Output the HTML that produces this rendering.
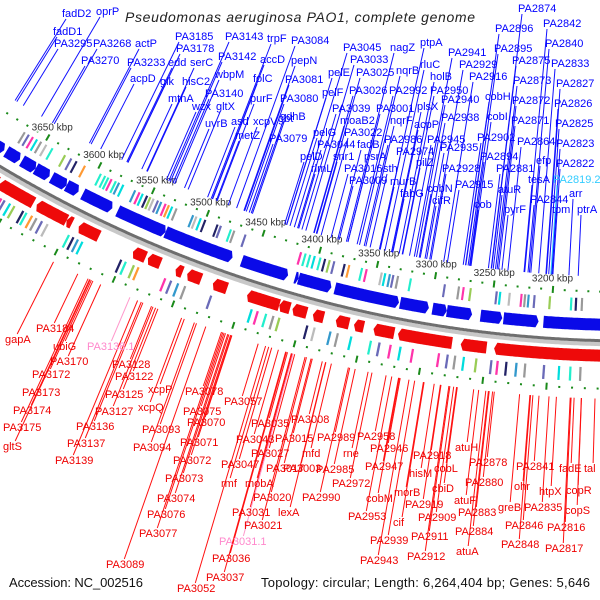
<!DOCTYPE html>
<html><head><meta charset="utf-8">
<style>
html,body{margin:0;padding:0;background:#fff;}
#wrap{width:600px;height:600px;position:relative;overflow:hidden;}
svg{display:block;}
text{font-family:"Liberation Sans",sans-serif;}
</style></head>
<body>
<div id="wrap">
<svg id="chart" width="600" height="600" viewBox="0 0 600 600" xmlns="http://www.w3.org/2000/svg">
<g id="gTracks"></g>
<g id="gTicks"></g>
<g id="gLines"></g>
<g id="gLabels"></g>
<text x="125" y="22" font-size="14" font-style="italic" fill="#222" textLength="350" lengthAdjust="spacing">Pseudomonas aeruginosa PAO1, complete genome</text>
<text x="9" y="587" font-size="13" fill="#111" textLength="134" lengthAdjust="spacing">Accession: NC_002516</text>
<text x="261" y="587" font-size="13" fill="#111" textLength="329" lengthAdjust="spacing">Topology: circular; Length: 6,264,404 bp; Genes: 5,646</text>
</svg>
</div>
<script>
// ---- data (kbp) ----
const forwardGenes = [[3676,3700],[3661,3674],[3646,3659],[3633,3646],[3617,3631],[3606,3617],[3575,3602],[3527,3570],[3468,3527],[3420,3460],[3411,3414],[3383,3411],[3326,3380],[3301,3325],[3286,3298],[3265,3286],[3240,3258],[3210,3239],[3140,3206]];
const reverseGenes = [[3676,3700],[3667,3674],[3634,3665],[3604,3631],[3599,3604],[3575,3593],[3534,3545],[3521,3532],[3502,3508],[3486,3498],[3464,3476],[3420,3447],[3411,3420],[3397,3409],[3383,3392],[3362,3373],[3350,3358],[3325,3342],[3278,3322],[3250,3271],[3140,3244]];
const forwardCog = [3669,3665,3661,3657,3653,3648,3642,3630,3624,3619,3611,3596,3592,3589,3586,3582,3579,3575,3564,3560,3557,3553,3550,3547,3543,3540,3536,3533,3530,3526,3511,3508,3504,3500,3489,3486,3477,3474,3464,3415,3411,3407,3403,3398,3394,3390,3386,3377,3373,3362,3358,3345,3342,3338,3335,3331,3320,3291,3279,3275,3269,3247,3244,3236,3226,3223,3220,3215,3202,3184,3180,3175];
const forwardCogColor = [0,1,2,3,0,4,5,6,1,7,8,5,5,5,2,5,9,3,9,2,3,7,6,4,1,9,2,8,3,0,9,4,3,7,7,1,5,0,1,2,5,5,3,5,7,6,1,7,8,5,2,4,3,9,1,0,5,1,0,2,6,1,3,4,2,0,9,1,6,5,7,0];
const reverseCog = [3672,3669,3662,3658,3655,3650,3646,3638,3635,3630,3626,3621,3616,3597,3593,3589,3585,3551,3547,3540,3536,3513,3508,3502,3496,3474,3440,3435,3428,3422,3417,3394,3388,3375,3369,3358,3342,3335,3326,3318,3308,3287,3280,3274,3267,3257,3245,3240,3233,3225,3218,3203,3191,3182,3174];
const reverseCogColor = [9,0,7,2,1,3,6,7,5,8,0,1,4,5,7,9,3,7,5,6,8,2,1,9,0,1,3,2,5,0,6,7,4,9,0,3,5,1,2,3,2,2,1,0,3,6,1,2,7,9,0,1,3,5,0];
const cogPalette = ["#999","#6a6ab8","#f3a","#0dd","#bbb","#2ec","#9c5","#226","#f93","#39c"];
const tickStartKbp = 3150, tickEndKbp = 3700, tickStep = 10, majorStep = 50;
const kbpTickLabels = [3650,3600,3550,3500,3450,3400,3350,3300,3250,3200];
// label layout [name, x, baseline]
const blueLabels = [["fadD2",62,17],["oprP",96,15],["fadD1",53,35],["PA3295",54,47],["PA3268",93,47],["actP",135,47],["PA3270",81,64],["PA3233",127,66],["edd",168,66],["serC",190,66],["acpD",130,82],["glk",160,85],["hisC2",182,85],["mtnA",168,102],["wzx",192,110],["gltX",216,110],["uvrB",205,127],["PA3185",175,40],["PA3178",176,52],["PA3143",225,40],["PA3142",218,60],["wbpM",215,78],["PA3140",205,97],["trpF",267,42],["accD",260,63],["folC",253,82],["purF",250,102],["asd",231,125],["xcpV",253,125],["gbt",278,122],["metZ",235,139],["PA3079",269,142],["PA3084",291,44],["pepN",291,64],["PA3081",285,83],["PA3080",280,102],["gdhB",280,120],["pelG",313,136],["PA3044",317,148],["pelD",300,160],["rlmL",311,172],["pelE",328,76],["pelF",322,96],["PA3039",332,112],["moaB2",340,124],["PA3022",344,136],["fadB",357,148],["snr1",333,160],["PA3016",344,172],["PA3009",349,184],["PA3045",343,51],["PA3033",350,63],["PA3025",356,76],["PA3026",349,94],["nagZ",390,51],["nqrB",396,74],["PA2992",389,94],["PA3001",376,112],["nqrF",390,124],["PA2986",384,143],["psrA",364,160],["PA2974",396,155],["sth",383,172],["murB",390,185],["fabG",400,197],["ptpA",420,46],["rluC",420,68],["holB",430,80],["PA2950",430,94],["plsX",417,110],["acpP",414,128],["PA2945",427,143],["pilZ",416,166],["cobN",427,192],["cifR",432,204],["PA2941",448,56],["PA2929",459,68],["PA2916",469,80],["PA2940",441,103],["PA2938",441,121],["PA2935",440,151],["PA2928",442,172],["PA2915",455,188],["PA2896",495,32],["PA2895",494,52],["PA2874",518,12],["PA2875",512,64],["PA2873",513,84],["PA2872",512,104],["PA2871",511,124],["PA2864",517,145],["PA2842",543,27],["PA2840",545,47],["PA2833",551,67],["PA2827",556,87],["PA2826",554,107],["PA2825",555,127],["PA2823",556,147],["PA2822",556,167],["cobH",485,100],["cobI",487,120],["PA2902",477,141],["PA2894",480,160],["PA2881",496,172],["atuR",498,193],["efp",536,164],["tesA",528,183],["arr",569,197],["cob",474,208],["pyrF",504,213],["PA2844",530,203],["tpm",552,213],["ptrA",577,213]];
const cyanLabels = [["PA2819.2",553,183]];
const redLabels = [["gapA",5,343],["PA3184",36,332],["ubiG",53,350],["PA3170",50,365],["PA3172",32,378],["PA3173",22,396],["PA3174",13,414],["PA3175",3,431],["gltS",3,450],["PA3128",112,368],["PA3122",115,380],["PA3125",105,398],["PA3127",95,415],["PA3136",76,430],["PA3137",67,447],["PA3139",55,464],["xcpP",148,393],["xcpQ",138,411],["PA3093",142,433],["PA3094",133,451],["PA3078",185,395],["PA3075",183,415],["PA3070",187,426],["PA3071",180,446],["PA3072",173,464],["PA3073",165,482],["PA3074",157,502],["PA3076",147,518],["PA3077",139,537],["PA3089",106,568],["PA3057",224,405],["PA3035",251,427],["PA3043",236,443],["PA3027",251,457],["PA3047",221,468],["PA3017",266,472],["rmf",221,487],["mobA",245,487],["PA3020",253,501],["PA3031",232,516],["lexA",278,516],["PA3021",244,529],["PA3036",212,562],["PA3037",206,581],["PA3052",177,592],["PA3008",291,423],["PA3015",275,442],["mfd",302,457],["PA3003",283,472],["PA2990",302,501],["PA2989",317,441],["rne",343,457],["PA2985",316,473],["PA2972",332,487],["PA2958",357,440],["PA2946",370,452],["PA2947",365,470],["cobM",366,502],["PA2953",348,520],["cif",393,526],["PA2939",370,544],["PA2943",360,564],["morB",394,496],["PA2918",413,459],["hisM",409,477],["cobL",434,472],["cbiD",432,492],["PA2919",405,508],["PA2909",418,521],["PA2911",411,540],["PA2912",407,560],["atuH",455,451],["PA2878",469,466],["PA2880",465,486],["atuF",454,504],["PA2883",458,516],["PA2884",455,535],["atuA",456,555],["PA2841",516,470],["greB",498,511],["ohr",514,490],["htpX",539,495],["PA2835",524,511],["PA2846",505,529],["PA2848",501,548],["fadE",559,472],["tal",584,472],["copR",566,494],["copS",565,514],["PA2816",547,531],["PA2817",545,552]];
const pinkLabels = [["PA3138.1",87,350],["PA3031.1",219,545]];

// ---- geometry ----
const CX=631, CY=-886, R0=1227;
function ang(k){return (3.8+(k-3200)*0.0575)*Math.PI/180;}
function pt(k,r){const a=ang(k);return [CX-r*Math.sin(a), CY+r*Math.cos(a)];}
const NS="http://www.w3.org/2000/svg";
function mk(tag,parent){const e=document.createElementNS(NS,tag);parent.appendChild(e);return e;}
function P(p){return p[0].toFixed(1)+","+p[1].toFixed(1);}
function arcPts(k1,k2,r){const n=Math.max(2,Math.ceil(Math.abs(k2-k1)));const a=[];for(let i=0;i<=n;i++)a.push(pt(k1+(k2-k1)*i/n,r));return a;}

const gT=document.getElementById('gTracks'), gK=document.getElementById('gTicks'), gL=document.getElementById('gLines'), gB=document.getElementById('gLabels');

// backbone
{
  const p1=mk('path',gT);
  p1.setAttribute('d','M'+arcPts(3140,3720,R0+3.5).map(P).join(' L'));
  p1.setAttribute('fill','none');p1.setAttribute('stroke','#c8c8c8');p1.setAttribute('stroke-width','4');
  
  
  const p2=mk('path',gT);
  p2.setAttribute('d','M'+arcPts(3140,3720,R0).map(P).join(' L'));
  p2.setAttribute('fill','none');p2.setAttribute('stroke','#6e6e6e');p2.setAttribute('stroke-width','3');
  
  
}

// gene arrows
function arrow(lo,hi,r1,r2,dirRight){
  const tip=Math.min(2.2,(hi-lo)*0.5), mid=(r1+r2)/2;
  let pts;
  if(dirRight){
    pts=arcPts(hi,lo+tip,r2).concat([pt(lo,mid)],arcPts(lo+tip,hi,r1));
  } else {
    pts=arcPts(lo,hi-tip,r2).concat([pt(hi,mid)],arcPts(hi-tip,lo,r1));
  }
  return 'M'+pts.map(P).join(' L')+'Z';
}
forwardGenes.forEach(g=>{
  const p=mk('path',gT);
  p.setAttribute('d',arrow(g[0],g[1],R0-22,R0-10,true));
  p.setAttribute('fill','#0a0ae8');
  
  
});
reverseGenes.forEach(g=>{
  const p=mk('path',gT);
  p.setAttribute('d',arrow(g[0],g[1],R0+9,R0+21,false));
  p.setAttribute('fill','#ee0a0a');
  
  
});
// COG bars
function cogBar(k,r1,r2,col,name){
  const pts=[pt(k-0.9,r1),pt(k+0.9,r1),pt(k+0.9,r2),pt(k-0.9,r2)];
  const p=mk('path',gT);
  p.setAttribute('d','M'+pts.map(P).join(' L')+'Z');
  p.setAttribute('fill',col);
  
  
}
forwardCog.forEach((k,i)=>cogBar(k,R0-42,R0-29,cogPalette[forwardCogColor[i]%cogPalette.length],'forward-cog-bar'));
reverseCog.forEach((k,i)=>cogBar(k,R0+27,R0+41,cogPalette[reverseCogColor[i]%cogPalette.length],'reverse-cog-bar'));

// ticks
for(let k=tickStartKbp;k<=tickEndKbp;k+=tickStep){
  const major=(k%majorStep===0);
  [[R0-49,'forward-tick'],[R0+48,'reverse-tick']].forEach(([r,nm])=>{
    const len=major?3.5:1;
    const a=pt(k,r-len), b=pt(k,r+len);
    const l=mk('line',gK);
    l.setAttribute('x1',a[0]);l.setAttribute('y1',a[1]);l.setAttribute('x2',b[0]);l.setAttribute('y2',b[1]);
    l.setAttribute('stroke','#1a8a1a');l.setAttribute('stroke-width','2');
    
    
  });
}

// label lines + labels
function addLabels(list,color,lineColor,isBlue,nm){
  list.forEach(([name,x,y])=>{
    const w=name.length*6.1;
    const ax=isBlue?x+4:x+w*0.5, ay=isBlue?y+2:y-9;
    const dx=ax-CX, dy=ay-CY, rr=Math.hypot(dx,dy);
    const rt=isBlue?R0-64:R0+58;
    const ex=CX+dx/rr*rt, ey=CY+dy/rr*rt;
    const l=mk('line',gL);
    l.setAttribute('x1',ax.toFixed(1));l.setAttribute('y1',ay.toFixed(1));l.setAttribute('x2',ex.toFixed(1));l.setAttribute('y2',ey.toFixed(1));
    l.setAttribute('stroke',lineColor);l.setAttribute('stroke-width','1');
    
    
    const t=mk('text',gB);
    t.setAttribute('x',x);t.setAttribute('y',y);t.setAttribute('font-size','11');t.setAttribute('fill',color);
    t.textContent=name;
    
    
  });
}
addLabels(blueLabels,'#0000ff','#1010ff',true,'forward-gene-label');
addLabels(cyanLabels,'#33ccff','#33ccff',true,'forward-gene-label');
addLabels(redLabels,'#ee0000','#ff1010',false,'reverse-gene-label');
addLabels(pinkLabels,'#ff88cc','#ff99cc',false,'reverse-gene-label');

// kbp labels
kbpTickLabels.forEach(k=>{
  const p=pt(k+1,R0-60);
  const r=mk('rect',gK);
  r.setAttribute('x',p[0]-21);r.setAttribute('y',p[1]-7);r.setAttribute('width',42);r.setAttribute('height',12);
  r.setAttribute('fill','rgba(255,255,255,0.7)');
  
  
  const t=mk('text',gK);
  t.setAttribute('x',p[0]);t.setAttribute('y',p[1]+3);t.setAttribute('font-size','10');t.setAttribute('fill','#333');
  t.setAttribute('text-anchor','middle');
  t.textContent=k+' kbp';
  
  
});
</script>
</body></html>
